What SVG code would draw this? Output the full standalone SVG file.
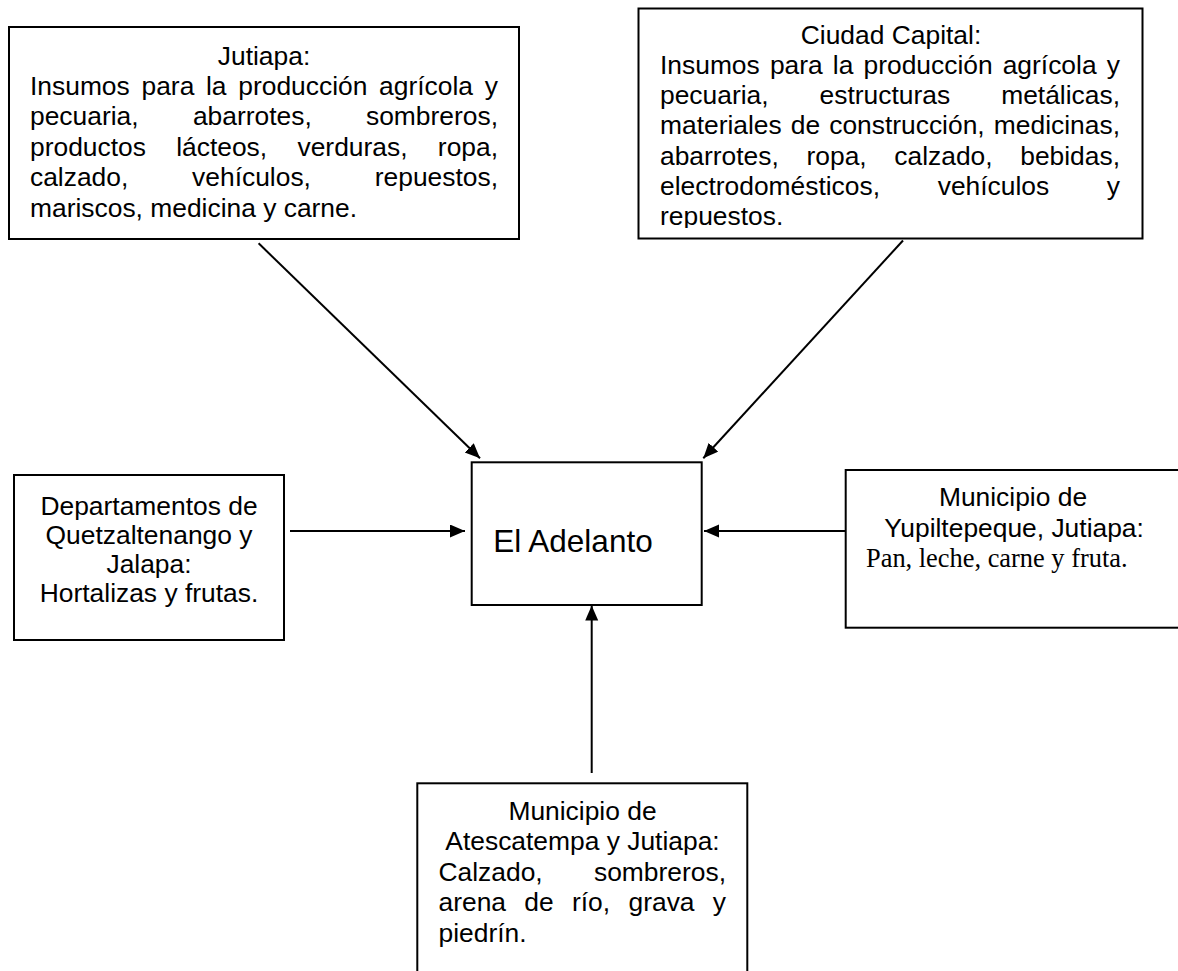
<svg xmlns="http://www.w3.org/2000/svg" width="1178" height="971" viewBox="0 0 1178 971">
<style>
.box{fill:#fff;stroke:#000;stroke-width:2}
.t{font-family:"Liberation Sans",Arial,sans-serif;font-size:26.4px;fill:#000}
.s{font-family:"Liberation Serif","Times New Roman",serif;font-size:26.4px;fill:#000}
.c{text-anchor:middle}
.e{text-anchor:end}
.big{font-size:31.5px}
.ln{stroke:#000;stroke-width:2;fill:none;marker-end:url(#ah)}
</style>
<defs>
<marker id="ah" markerUnits="userSpaceOnUse" markerWidth="16" markerHeight="14" refX="15" refY="6.5" orient="auto" viewBox="0 0 16 14">
<path d="M0,0 L15,6.5 L0,13 Z" fill="#000"/>
</marker>
<clipPath id="clipC"><rect x="638" y="8" width="506" height="220"/></clipPath>
</defs>
<rect width="1178" height="971" fill="#fff"/>

<g id="jutiapa">
<rect class="box" x="9" y="27" width="510" height="212"/>
<text class="t c" x="264" y="64.5">Jutiapa:</text>
<text class="t" y="95"><tspan x="30">Insumos</tspan><tspan x="141.5">para</tspan><tspan x="206">la</tspan><tspan x="238.3">producción</tspan><tspan x="379.1">agrícola</tspan></text>
<text class="t e" x="498" y="95">y</text>
<text class="t" x="30" y="125.4">pecuaria,</text>
<text class="t" x="192.9" y="125.4">abarrotes,</text>
<text class="t e" x="498" y="125.4">sombreros,</text>
<text class="t" y="155.9"><tspan x="30">productos</tspan><tspan x="176.2">lácteos,</tspan><tspan x="297.5">verduras,</tspan></text>
<text class="t e" x="498" y="155.9">ropa,</text>
<text class="t" x="30" y="186.3">calzado,</text>
<text class="t" x="192.1" y="186.3">vehículos,</text>
<text class="t e" x="498" y="186.3">repuestos,</text>
<text class="t" x="30" y="216.8">mariscos, medicina y carne.</text>
</g>

<g id="ciudad-capital">
<rect class="box" x="638.5" y="8.5" width="504" height="230"/>
<g clip-path="url(#clipC)">
<text class="t c" x="891" y="43.5">Ciudad Capital:</text>
<text class="t" y="73.8"><tspan x="660">Insumos</tspan><tspan x="769.9">para</tspan><tspan x="832.8">la</tspan><tspan x="863.5">producción</tspan><tspan x="1002.7">agrícola</tspan></text>
<text class="t e" x="1120" y="73.8">y</text>
<text class="t" x="660" y="104.1">pecuaria,</text>
<text class="t" x="819.6" y="104.1">estructuras</text>
<text class="t e" x="1120" y="104.1">metálicas,</text>
<text class="t" y="134.4"><tspan x="660">materiales</tspan><tspan x="790.8">de</tspan><tspan x="829.2">construcción,</tspan></text>
<text class="t e" x="1120" y="134.4">medicinas,</text>
<text class="t" y="164.7"><tspan x="660">abarrotes,</tspan><tspan x="806.5">ropa,</tspan><tspan x="894.3">calzado,</tspan></text>
<text class="t e" x="1120" y="164.7">bebidas,</text>
<text class="t" x="660" y="195">electrodomésticos,</text>
<text class="t" x="937.7" y="195">vehículos</text>
<text class="t e" x="1120" y="195">y</text>
<text class="t" x="660" y="225.3">repuestos.</text>
</g>
</g>

<g id="departamentos">
<rect class="box" x="14" y="475" width="270" height="165"/>
<text class="t c" x="149" y="515">Departamentos de</text>
<text class="t c" x="149" y="544.3">Quetzaltenango y</text>
<text class="t c" x="149" y="573">Jalapa:</text>
<text class="t c" x="149" y="602">Hortalizas y frutas.</text>
</g>

<g id="el-adelanto">
<rect class="box" x="471.7" y="462.3" width="230" height="142.7"/>
<text class="t big" x="493.3" y="552">El Adelanto</text>
</g>

<g id="yupiltepeque">
<rect class="box" x="845.7" y="470" width="340" height="157.7"/>
<text class="t c" x="1013" y="506">Municipio de</text>
<text class="t c" x="1014" y="536.7">Yupiltepeque, Jutiapa:</text>
<text class="s" x="866" y="566.7">Pan, leche, carne y fruta.</text>
</g>

<g id="atescatempa">
<rect class="box" x="417.3" y="783.3" width="330" height="200"/>
<text class="t c" x="582.5" y="820">Municipio de</text>
<text class="t c" x="582.5" y="850.4">Atescatempa y Jutiapa:</text>
<text class="t" x="438.5" y="880.8">Calzado,</text>
<text class="t e" x="726" y="880.8">sombreros,</text>
<text class="t" y="911.2"><tspan x="438.5">arena</tspan><tspan x="524.3">de</tspan><tspan x="572">río,</tspan><tspan x="628.5">grava</tspan></text>
<text class="t e" x="726" y="911.2">y</text>
<text class="t" x="438.5" y="941.6">piedrín.</text>
</g>

<g id="connectors">
<line class="ln" x1="258.6" y1="243.3" x2="480" y2="458.3"/>
<line class="ln" x1="903" y1="240.5" x2="703.3" y2="458.3"/>
<line class="ln" x1="290" y1="531" x2="465" y2="531"/>
<line class="ln" x1="845.7" y1="531" x2="704" y2="531"/>
<line class="ln" x1="591.7" y1="773" x2="591.7" y2="605.5"/>
</g>
</svg>
